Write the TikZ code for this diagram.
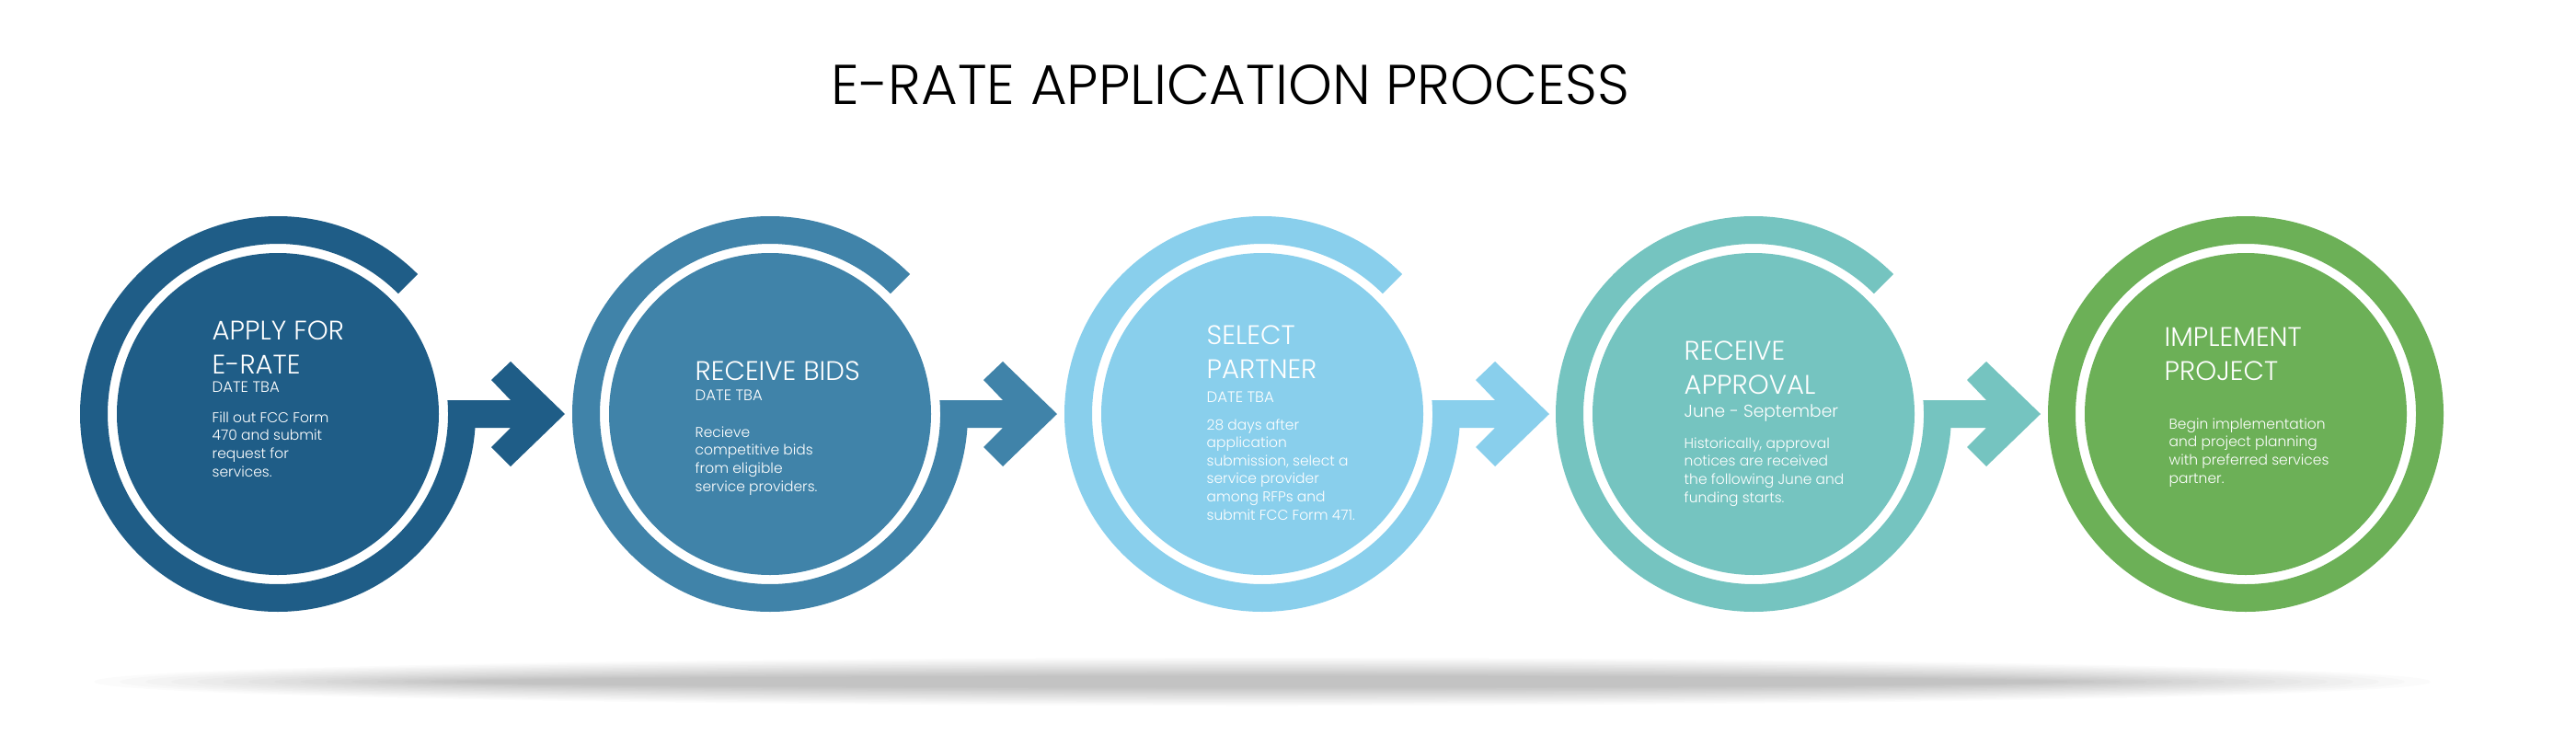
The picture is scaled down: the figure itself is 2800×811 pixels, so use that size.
\documentclass[tikz,border=0pt]{standalone}
\usepackage{fontspec}
\IfFontExistsTF{Poppins Light}{\setmainfont{Poppins Light}}{\setmainfont{Poppins}}
\usepackage{xcolor}
\usepackage{tikz}

\definecolor{applyblue}{HTML}{1F5D87}
\definecolor{bidsblue}{HTML}{4083A9}
\definecolor{partnerblue}{HTML}{89CFEC}
\definecolor{approvalteal}{HTML}{75C4C0}
\definecolor{projectgreen}{HTML}{6CB057}

% open ring around a step, ending in the arrow to the next one
\newcommand{\ringarrow}[2]{%
  \fill[#2] ({#1+152.03},513.03) arc[start angle=45, end angle=356, radius=215]
    -- ({#1+253},346) -- ({#1+232},325) -- ({#1+253},304) -- ({#1+312},361)
    -- ({#1+253},418) -- ({#1+232},398) -- ({#1+253},376) -- ({#1+184.4},376)
    arc[start angle=4.65, end angle=-315, radius=185] -- cycle;
}

\begin{document}
\begin{tikzpicture}[x=0.01cm, y=0.01cm,
    steptitle/.style={anchor=base west, inner sep=0pt, align=left, text=white, font=\fontsize{8.3}{10.5}\selectfont},
    stepdate/.style={anchor=base west, inner sep=0pt, align=left, text=white, font=\fontsize{4.7}{5.6}\selectfont},
    steptext/.style={anchor=base west, inner sep=0pt, align=left, text=white, font=\fontsize{4.4}{5.55}\selectfont}]

    \useasboundingbox (0,0) rectangle (2800,811);
    \fill[white] (0,0) rectangle (2800,811);

    \node[anchor=base west, inner sep=0pt, font=\fontsize{17.3}{20}\selectfont] (title) at (903,698) {E-RATE APPLICATION PROCESS};

    % soft shadow under the steps
    \foreach \k in {0,...,14}
        \fill[black, opacity=0.014] (1372,70) ellipse [x radius={1270-28*\k}, y radius={26-1.4*\k}];

    % rings and arrows
    \ringarrow{302}{applyblue}
    \ringarrow{837}{bidsblue}
    \ringarrow{1372}{partnerblue}
    \ringarrow{1906}{approvalteal}
    \fill[projectgreen, even odd rule] (2441,361) circle[radius=215] circle[radius=185];

    % discs
    \fill[applyblue] (302,361) circle[radius=175];
    \fill[bidsblue] (837,361) circle[radius=175];
    \fill[partnerblue] (1372,361) circle[radius=175];
    \fill[approvalteal] (1906,361) circle[radius=175];
    \fill[projectgreen] (2441,361) circle[radius=175];

    % texts, placed at the baseline of their last line
    \node[steptitle] (apply) at (230,405) {APPLY FOR\\E-RATE};
    \node[stepdate] (applydate) at (230,385) {DATE TBA};
    \node[steptext] (applytext) at (230,293) {Fill out FCC Form\\470 and submit\\request for\\services.};

    \node[steptitle] (bids) at (755,398) {RECEIVE BIDS};
    \node[stepdate] (bidsdate) at (755,376) {DATE TBA};
    \node[steptext] (bidstext) at (755,277) {Recieve\\competitive bids\\from eligible\\service providers.};

    \node[steptitle] (partner) at (1311,400) {SELECT\\PARTNER};
    \node[stepdate] (partnerdate) at (1311,374) {DATE TBA};
    \node[steptext] (partnertext) at (1311,246) {28 days after\\application\\submission, select a\\service provider\\among RFPs and\\submit FCC Form 471.};

    \node[steptitle] (approval) at (1830,383) {RECEIVE\\APPROVAL};
    \node[stepdate, font=\fontsize{5.3}{6.3}\selectfont] (approvaldate) at (1830,358) {June - September};
    \node[steptext] (approvaltext) at (1830,265) {Historically, approval\\notices are received\\the following June and\\funding starts.};

    \node[steptitle] (project) at (2352,398) {IMPLEMENT\\PROJECT};
    \node[steptext] (projecttext) at (2357,286) {Begin implementation\\and project planning\\with preferred services\\partner.};
\end{tikzpicture}
\end{document}
